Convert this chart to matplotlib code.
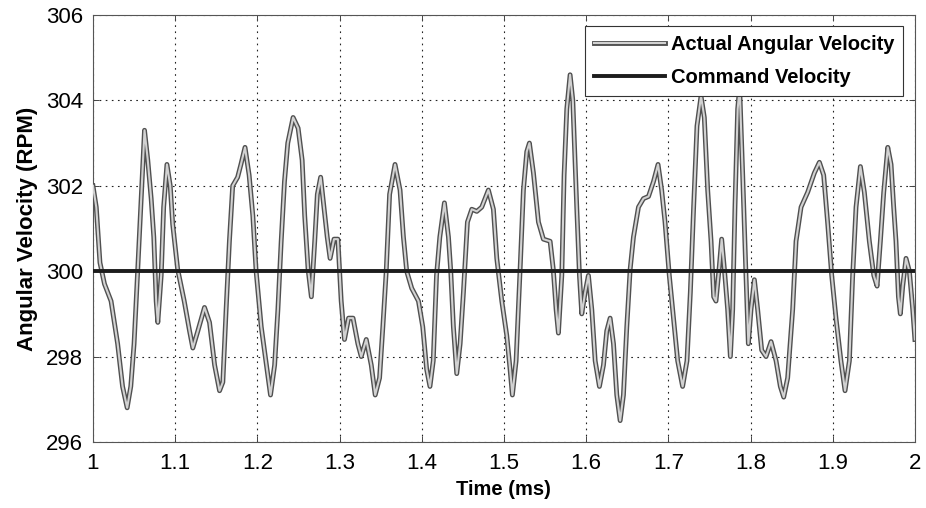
import matplotlib
matplotlib.use('Agg')
import matplotlib.pyplot as plt
import matplotlib.patheffects as pe

plt.rcParams['font.family'] = ['Liberation Sans', 'DejaVu Sans']

time_ms = [
    1.000, 1.004, 1.0085, 1.014, 1.022, 1.030, 1.036, 1.0416, 1.046, 1.050,
    1.0545, 1.0586, 1.0627, 1.0667, 1.0708, 1.074, 1.0769, 1.0789, 1.083, 1.086,
    1.090, 1.094, 1.097, 1.103, 1.111, 1.1175, 1.1215, 1.1276, 1.1357, 1.1418,
    1.148, 1.154, 1.158, 1.162, 1.166, 1.170, 1.176, 1.180, 1.185, 1.190,
    1.1945, 1.1985, 1.2047, 1.211, 1.216, 1.221, 1.225, 1.229, 1.233, 1.237,
    1.2435, 1.2496, 1.2545, 1.2576, 1.2617, 1.2657, 1.2698, 1.273, 1.277, 1.281,
    1.285, 1.2885, 1.2933, 1.298, 1.302, 1.306, 1.311, 1.3164, 1.3223, 1.3264,
    1.3325, 1.3386, 1.3434, 1.3487, 1.3527, 1.3568, 1.3609, 1.3675, 1.3736, 1.3777,
    1.3817, 1.3878, 1.396, 1.4012, 1.406, 1.410, 1.414, 1.418, 1.422, 1.4276,
    1.4325, 1.4353, 1.4385, 1.4426, 1.4467, 1.4507, 1.4556, 1.4609, 1.467, 1.473,
    1.4811, 1.4872, 1.4913, 1.4974, 1.5034, 1.5075, 1.5103, 1.5148, 1.5197, 1.5237,
    1.5278, 1.531, 1.5359, 1.542, 1.548, 1.5562, 1.560, 1.5635, 1.5663, 1.5704,
    1.5732, 1.5765, 1.5805, 1.5838, 1.5886, 1.5919, 1.5947, 1.5988, 1.6028, 1.6069,
    1.611, 1.6162, 1.6211, 1.6251, 1.6292, 1.6333, 1.6373, 1.6414, 1.6454, 1.6495,
    1.6536, 1.6576, 1.6637, 1.6698, 1.6759, 1.682, 1.6875, 1.6919, 1.696, 1.7012,
    1.7073, 1.7114, 1.7174, 1.7227, 1.7268, 1.7308, 1.7349, 1.7398, 1.7438, 1.7479,
    1.752, 1.7552, 1.758, 1.762, 1.7649, 1.7682, 1.7722, 1.7755, 1.7783, 1.7811,
    1.7844, 1.7868, 1.7905, 1.7945, 1.7974, 1.8006, 1.8047, 1.8087, 1.8136, 1.8189,
    1.825, 1.8311, 1.8363, 1.8404, 1.8452, 1.8513, 1.8554, 1.8615, 1.8696, 1.8777,
    1.8838, 1.889, 1.894, 1.8988, 1.904, 1.910, 1.915, 1.9203, 1.9243, 1.9284,
    1.9337, 1.9385, 1.9446, 1.950, 1.954, 1.958, 1.9621, 1.967, 1.971, 1.9742,
    1.977, 1.980, 1.9823, 1.9852, 1.9892, 1.9933, 1.9974, 2.000,
]
actual_rpm = [
    302.0, 301.5, 300.2, 299.7, 299.3, 298.3, 297.3, 296.8, 297.3, 298.3,
    300.05, 301.7, 303.3, 302.6, 301.7, 300.8, 299.3, 298.8, 299.9, 301.5,
    302.5, 302.0, 301.1, 300.05, 299.3, 298.6, 298.2, 298.6, 299.15, 298.8,
    297.8, 297.2, 297.4, 299.1, 300.7, 302.0, 302.2, 302.5, 302.9, 302.25,
    301.3, 300.0, 298.7, 297.8, 297.1, 297.8, 299.1, 300.7, 302.1, 303.0,
    303.6, 303.35, 302.6, 301.3, 300.05, 299.4, 300.7, 301.8, 302.2, 301.5,
    300.8, 300.3, 300.75, 300.75, 299.3, 298.4, 298.9, 298.9, 298.3, 298.0,
    298.4, 297.8, 297.1, 297.5, 298.7, 300.0, 301.8, 302.5, 301.9, 300.8,
    300.0, 299.6, 299.3, 298.7, 297.7, 297.3, 297.9, 299.9, 300.8, 301.6,
    300.8, 300.0, 298.7, 297.6, 298.3, 299.5, 301.15, 301.45, 301.4, 301.5,
    301.9, 301.45, 300.3, 299.3, 298.5, 297.7, 297.1, 297.9, 300.05, 301.9,
    302.8, 303.0, 302.3, 301.15, 300.75, 300.7, 300.05, 299.1, 298.55, 299.9,
    302.25, 303.8, 304.6, 304.0, 301.5, 299.9, 299.0, 299.5, 299.9, 299.1,
    297.9, 297.3, 297.8, 298.6, 298.9, 298.3, 297.1, 296.5, 297.1, 298.7,
    300.05, 300.8, 301.5, 301.7, 301.75, 302.1, 302.5, 301.9, 301.15, 299.9,
    298.7, 297.9, 297.3, 297.9, 299.5, 301.5, 303.4, 304.1, 303.6, 301.9,
    300.7, 299.4, 299.3, 300.1, 300.75, 300.05, 299.1, 298.0, 299.1, 301.5,
    303.8, 304.3, 302.25, 299.9, 298.3, 299.1, 299.8, 299.1, 298.15, 298.0,
    298.35, 297.9, 297.3, 297.05, 297.5, 299.1, 300.7, 301.5, 301.85, 302.3,
    302.55, 302.25, 301.1, 299.9, 298.9, 297.9, 297.2, 297.9, 299.9, 301.5,
    302.45, 301.85, 300.7, 299.9, 299.65, 300.7, 301.85, 302.9, 302.5, 301.5,
    300.7, 299.4, 299.0, 299.65, 300.3, 300.0, 299.1, 298.4,
]
command_t = [1.0, 2.0]
command_rpm = [300.0, 300.0]

x_ticks = [1, 1.1, 1.2, 1.3, 1.4, 1.5, 1.6, 1.7, 1.8, 1.9, 2]
x_tick_labels = ['1', '1.1', '1.2', '1.3', '1.4', '1.5', '1.6', '1.7', '1.8', '1.9', '2']
y_ticks = [296, 298, 300, 302, 304, 306]

fig = plt.figure(figsize=(9.26, 5.08), dpi=100)
ax = fig.add_axes([0.1004, 0.130, 0.8876, 0.8405])

# hollow-looking scanned trace: dark outline with light core
ax.plot(time_ms, actual_rpm, color='#d2d2d2', lw=1.5, label='Actual Angular Velocity',
        path_effects=[pe.Stroke(linewidth=3.5, foreground='#505050'), pe.Normal()], zorder=3)
ax.plot(command_t, command_rpm, color='#1c1c1c', lw=2.8, label='Command Velocity', zorder=4)

ax.set_xlim(1, 2)
ax.set_ylim(296, 306)
ax.set_xticks(x_ticks)
ax.set_xticklabels(x_tick_labels)
ax.set_yticks(y_ticks)
ax.tick_params(direction='in', top=True, right=True, length=4, width=0.7,
               labelsize=16, color='#444')
ax.tick_params(axis='x', pad=8)
ax.tick_params(axis='y', pad=7)
ax.grid(True, color='#222', linestyle=(0, (1.5, 4)), linewidth=0.8)
for s in ax.spines.values():
    s.set_color('#555')
    s.set_linewidth(0.8)

ax.set_xlabel('Time (ms)', fontsize=14.5, fontweight='bold', labelpad=4)
ax.set_ylabel('Angular Velocity (RPM)', fontsize=16, fontweight='bold', labelpad=6)

leg = ax.legend(loc='upper right', bbox_to_anchor=(0.986, 0.975), borderaxespad=0,
                fancybox=False, framealpha=1, edgecolor='#333', handlelength=3.5,
                handletextpad=0.3, borderpad=0.45, labelspacing=0.7,
                prop={'size': 14.5, 'weight': 'bold'})
leg.get_frame().set_linewidth(0.8)

plt.savefig('out.png', dpi=100)
